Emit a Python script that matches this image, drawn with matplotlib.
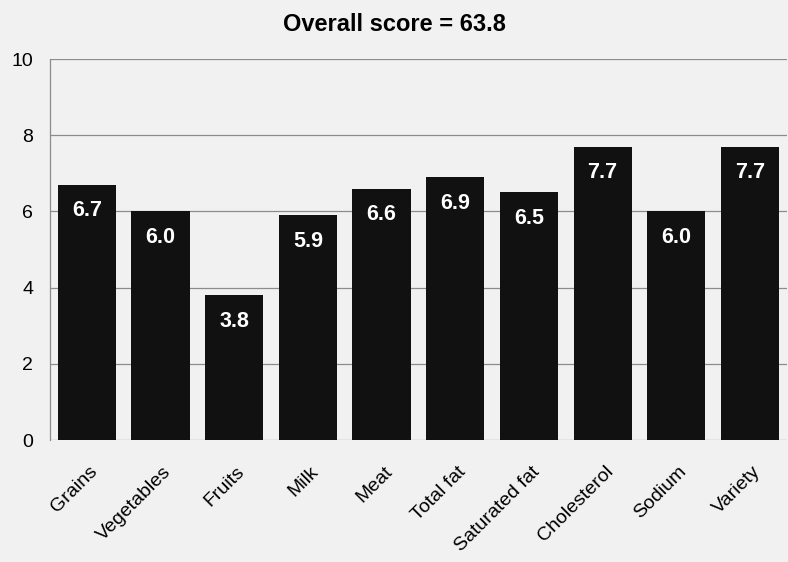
import matplotlib.pyplot as plt
import matplotlib.transforms as mtransforms
import numpy as np

plt.rcParams['font.family'] = ['Liberation Sans', 'DejaVu Sans']

categories = ['Grains', 'Vegetables', 'Fruits', 'Milk', 'Meat', 'Total fat',
              'Saturated fat', 'Cholesterol', 'Sodium', 'Variety']
scores = [6.7, 6.0, 3.8, 5.9, 6.6, 6.9, 6.5, 7.7, 6.0, 7.7]
overall = 63.8

bg = '#f1f1f1'
fig = plt.figure(figsize=(7.88, 5.62), dpi=100, facecolor=bg)
ax = fig.add_axes([0.0635, 0.217, 0.935, 0.678])
ax.set_facecolor(bg)

x = np.arange(len(categories))
bars = ax.bar(x, scores, width=0.79, color='#111111', zorder=3)

# value labels sit inside the top of each bar
for b, v in zip(bars, scores):
    ax.annotate(f'{v:.1f}', (b.get_x() + b.get_width() / 2, v),
                xytext=(0, -26), textcoords='offset pixels',
                ha='center', va='center', color='white', fontsize=15.5,
                fontweight='bold', zorder=4)

ax.set_xlim(-0.5, len(categories) - 0.5)
ax.set_ylim(0, 10)
ax.set_yticks([0, 2, 4, 6, 8, 10])
ax.yaxis.grid(True, color='#8c8c8c', linewidth=0.9, zorder=0)
ax.tick_params(axis='both', length=0)
ax.tick_params(axis='y', pad=12, labelsize=14)
ax.tick_params(axis='x', pad=21)
ax.set_xticks(x)
ax.set_xticklabels(categories, rotation=45, ha='right', va='center',
                   rotation_mode='anchor', fontsize=14)

# nudge rotated labels a bit to the right
shift = mtransforms.ScaledTranslation(8 / 100, 0, fig.dpi_scale_trans)
for lab in ax.get_xticklabels():
    lab.set_transform(lab.get_transform() + shift)

for s in ['top', 'right', 'bottom']:
    ax.spines[s].set_visible(False)
ax.spines['left'].set_color('#8c8c8c')
ax.spines['left'].set_linewidth(0.9)

fig.suptitle(f'Overall score = {overall}', y=0.977, fontsize=17, fontweight='bold')

fig.savefig('out.png', dpi=100, facecolor=bg)
